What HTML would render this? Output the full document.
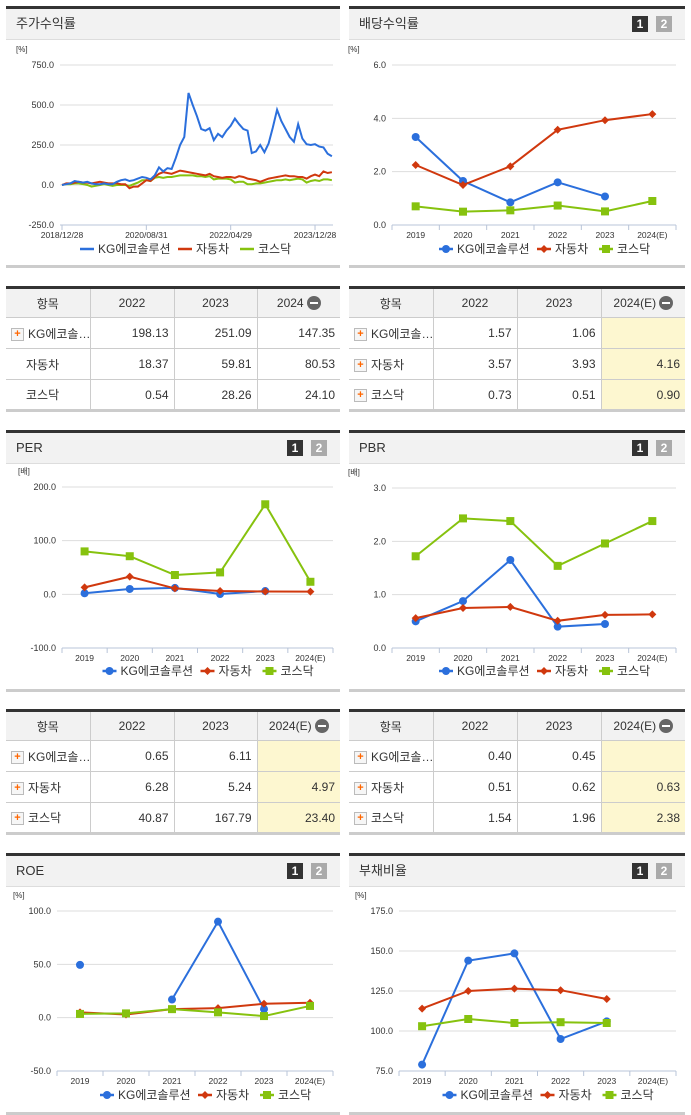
<!DOCTYPE html>
<html><head><meta charset="utf-8">
<style>
body{margin:0;width:691px;height:1115px;position:relative;background:#fff;font-family:"Liberation Sans","Noto Sans CJK KR",sans-serif;overflow:hidden}
.panel{position:absolute;border-top:3px solid #333;box-sizing:border-box}
.phead{height:30px;background:#f2f2f2;border-bottom:1px solid #ddd;font-size:13px;color:#333;line-height:30px;padding-left:10px;position:relative}
.pbot{position:absolute;left:0;right:0;height:3px;background:#ccc}
.b1,.b2{position:absolute;top:7px;width:16px;height:16px;color:#fff;font-size:12px;font-weight:bold;line-height:16px;text-align:center}
.b1{background:#333;right:37px}.b2{background:#aaa;right:13px}
table{position:absolute;border-collapse:collapse;font-size:12px;color:#333;border-top:3px solid #333;border-bottom:3px solid #ccc;table-layout:fixed}
td,th{border:1px solid #ccc;height:31px;padding:0 5px;box-sizing:border-box;white-space:nowrap;overflow:hidden}
th{background:#f2f2f2;font-weight:normal;text-align:center;height:30px}
td.n{text-align:right;color:#333}
td.y{background:#fdf7d0}
tr td:first-child,tr th:first-child{border-left:none}
tr td:last-child,tr th:last-child{border-right:none}
.pl{display:inline-block;width:11px;height:11px;border:1px solid #bbb;background:#f6f6f6;color:#f60;font-size:11px;line-height:10px;text-align:center;font-weight:bold;vertical-align:middle;margin-right:4px}
.mi{display:inline-block;width:14px;height:14px;border-radius:7px;background:#666;vertical-align:middle;position:relative;margin-left:3px}
.mi:after{content:"";position:absolute;left:3px;top:6px;width:8px;height:2px;background:#fff}
svg{position:absolute;left:0;top:0}
</style></head><body>

<div class="panel" style="left:6px;top:6px;width:334px;height:262px"><div class="phead">주가수익률</div><div class="pbot" style="top:256px"></div></div>
<div class="panel" style="left:349px;top:6px;width:336px;height:262px"><div class="phead">배당수익률<span class="b1">1</span><span class="b2">2</span></div><div class="pbot" style="top:256px"></div></div>
<div class="panel" style="left:6px;top:430px;width:334px;height:262px"><div class="phead">PER<span class="b1">1</span><span class="b2">2</span></div><div class="pbot" style="top:256px"></div></div>
<div class="panel" style="left:349px;top:430px;width:336px;height:262px"><div class="phead">PBR<span class="b1">1</span><span class="b2">2</span></div><div class="pbot" style="top:256px"></div></div>
<div class="panel" style="left:6px;top:853px;width:334px;height:262px"><div class="phead">ROE<span class="b1">1</span><span class="b2">2</span></div><div class="pbot" style="top:256px"></div></div>
<div class="panel" style="left:349px;top:853px;width:336px;height:262px"><div class="phead">부채비율<span class="b1">1</span><span class="b2">2</span></div><div class="pbot" style="top:256px"></div></div>

<table style="left:6px;top:286px;width:334px">
<tr><th style="width:84px">항목</th><th style="width:84px">2022</th><th style="width:83px">2023</th><th>2024<span class="mi"></span></th></tr>
<tr><td><span class="pl">+</span>KG에코솔…</td><td class="n">198.13</td><td class="n">251.09</td><td class="n">147.35</td></tr>
<tr><td style="padding-left:20px">자동차</td><td class="n">18.37</td><td class="n">59.81</td><td class="n">80.53</td></tr>
<tr><td style="padding-left:20px">코스닥</td><td class="n">0.54</td><td class="n">28.26</td><td class="n">24.10</td></tr>
</table>
<table style="left:349px;top:286px;width:336px">
<tr><th style="width:84px">항목</th><th style="width:84px">2022</th><th style="width:84px">2023</th><th>2024(E)<span class="mi"></span></th></tr>
<tr><td><span class="pl">+</span>KG에코솔…</td><td class="n">1.57</td><td class="n">1.06</td><td class="n y"></td></tr>
<tr><td><span class="pl">+</span>자동차</td><td class="n">3.57</td><td class="n">3.93</td><td class="n y">4.16</td></tr>
<tr><td><span class="pl">+</span>코스닥</td><td class="n">0.73</td><td class="n">0.51</td><td class="n y">0.90</td></tr>
</table>
<table style="left:6px;top:709px;width:334px">
<tr><th style="width:84px">항목</th><th style="width:84px">2022</th><th style="width:83px">2023</th><th>2024(E)<span class="mi"></span></th></tr>
<tr><td><span class="pl">+</span>KG에코솔…</td><td class="n">0.65</td><td class="n">6.11</td><td class="n y"></td></tr>
<tr><td><span class="pl">+</span>자동차</td><td class="n">6.28</td><td class="n">5.24</td><td class="n y">4.97</td></tr>
<tr><td><span class="pl">+</span>코스닥</td><td class="n">40.87</td><td class="n">167.79</td><td class="n y">23.40</td></tr>
</table>
<table style="left:349px;top:709px;width:336px">
<tr><th style="width:84px">항목</th><th style="width:84px">2022</th><th style="width:84px">2023</th><th>2024(E)<span class="mi"></span></th></tr>
<tr><td><span class="pl">+</span>KG에코솔…</td><td class="n">0.40</td><td class="n">0.45</td><td class="n y"></td></tr>
<tr><td><span class="pl">+</span>자동차</td><td class="n">0.51</td><td class="n">0.62</td><td class="n y">0.63</td></tr>
<tr><td><span class="pl">+</span>코스닥</td><td class="n">1.54</td><td class="n">1.96</td><td class="n y">2.38</td></tr>
</table>

<svg id="s" width="691" height="1115"></svg>

<script>
// ---- stock return (monthly, from 2018/12) ----
const tsKG = [0,5,10,25,20,15,20,10,5,5,10,5,5,20,30,35,25,30,40,50,45,35,60,110,85,105,100,170,250,300,575,500,430,350,340,355,280,320,300,340,370,415,380,350,340,200,210,250,205,260,360,470,400,350,300,270,380,290,255,250,255,240,235,195,180];
const tsCar = [0,10,10,15,20,15,15,10,15,20,15,10,10,10,5,5,-20,-10,-10,10,30,25,50,70,80,75,70,80,90,85,80,75,70,65,60,70,55,50,45,50,50,45,55,50,40,35,30,20,30,40,45,50,55,60,55,55,50,50,40,55,65,55,85,75,80];
const tsKosdaq = [0,5,5,10,10,5,0,-10,-5,0,5,0,-5,0,0,0,-5,5,15,30,30,25,45,50,45,50,50,55,60,60,60,60,55,55,50,55,35,40,40,40,35,15,20,20,5,5,10,10,15,20,25,30,30,35,30,35,40,35,15,25,30,25,35,35,30];
const tsTicks = [750,500,250,0,-250];
const tsDates = ["2018/12/28","2020/08/31","2022/04/29","2023/12/28"];
const tsDateMonths = [0,20,40,60];

// ---- category charts ----
const years = ["2019","2020","2021","2022","2023","2024(E)"];
const divKG = [3.3,1.65,0.85,1.6,1.07,null];
const divCar = [2.25,1.5,2.2,3.57,3.93,4.16];
const divKosdaq = [0.7,0.5,0.55,0.73,0.51,0.9];
const divTicks = [6,4,2,0];
const perKG = [2,10,12,0.65,6.11,null];
const perCar = [13,33,11,6.28,5.24,4.97];
const perKosdaq = [80,71,36,40.87,167.79,23.4];
const perTicks = [200,100,0,-100];
const pbrKG = [0.5,0.88,1.65,0.40,0.45,null];
const pbrCar = [0.56,0.75,0.77,0.51,0.62,0.63];
const pbrKosdaq = [1.72,2.43,2.38,1.54,1.96,2.38];
const pbrTicks = [3,2,1,0];
const roeKG = [49.5,null,17,90,8,null];
const roeCar = [5,3,8,9,13,14];
const roeKosdaq = [3.5,4,8,5,1.5,11];
const roeTicks = [100,50,0,-50];
const debtKG = [79,144,148.5,95,106,null];
const debtCar = [114,125,126.5,125.5,120,null];
const debtKosdaq = [103,107.5,105,105.5,105,null];
const debtTicks = [175,150,125,100,75];

const NS="http://www.w3.org/2000/svg", S=document.getElementById('s');
const BLUE="#2b6fdc", RED="#d0380e", GREEN="#86c20e";
function el(t,a,p){const e=document.createElementNS(NS,t);for(const k in a)e.setAttribute(k,a[k]);(p||S).appendChild(e);return e;}
function txt(x,y,s,size,anchor,p){const e=el('text',{x:x,y:y,'font-size':size,fill:'#333','text-anchor':anchor||'middle','font-family':'"Liberation Sans","Noto Sans CJK KR",sans-serif'},p);e.textContent=s;return e;}

function yAxis(g,L,R,top,bot,ticks,unit){
  const max=ticks[0],min=ticks[ticks.length-1];
  const y=v=>top+(max-v)/(max-min)*(bot-top);
  txt(L-44,top-13,unit,8,'start',g);
  ticks.forEach(t=>{
    const gl=el('line',{x1:L,x2:R,y1:y(t),y2:y(t),stroke:'#ddd','stroke-width':1},g);
    
    
    const lb=txt(L-6,y(t)+3,t.toFixed(1),9,'end',g);
    
    
  });
  el('line',{x1:L,x2:R,y1:bot,y2:bot,stroke:'#b8c4d8','stroke-width':1},g);
  return y;
}
function marker(g,kind,x,y,col){
  let m;
  if(kind==0)m=el('circle',{cx:x,cy:y,r:4,fill:col},g);
  else if(kind==1)m=el('path',{d:`M${x} ${y-4}L${x+4} ${y}L${x} ${y+4}L${x-4} ${y}Z`,fill:col},g);
  else m=el('rect',{x:x-4,y:y-4,width:8,height:8,fill:col},g);
  
  
}
function legend(g,cx,y,withMarkers){
  const items=[["KG에코솔루션",BLUE,0,0],["자동차",RED,1,98],["코스닥",GREEN,2,160]];
  const x0=cx-100;
  items.forEach(it=>{
    const x=x0+it[3];
    el('line',{x1:x,x2:x+14,y1:y,y2:y,stroke:it[1],'stroke-width':2.5},g);
    if(withMarkers)marker(g,it[2],x+7,y,it[1]);
    const t=txt(x+18,y+4,it[0],12,'start',g);
    
    
  });
}
function catChart(name,L,R,top,bot,ticks,unit,series,legY){
  const g=el('g',{});
  
  
  const y=yAxis(g,L,R,top,bot,ticks,unit);
  const w=(R-L)/years.length, x=i=>L+(i+0.5)*w;
  for(let i=0;i<=years.length;i++)el('line',{x1:L+i*w,x2:L+i*w,y1:bot,y2:bot+5,stroke:'#b8c4d8'},g);
  years.forEach((c,i)=>{const t=txt(x(i),bot+13,c,8.5,'middle',g);});
  const cols=[BLUE,RED,GREEN];
  series.forEach((s,k)=>{
    let d='',pen=false;
    s.forEach((v,i)=>{if(v==null){pen=false;return;}d+=(pen?'L':'M')+x(i)+' '+y(v);pen=true;});
    const p=el('path',{d:d,fill:'none',stroke:cols[k],'stroke-width':2},g);
    
    
    s.forEach((v,i)=>{if(v!=null)marker(g,k,x(i),y(v),cols[k]);});
  });
  legend(g,(L+R)/2+5,legY,true);
}
// time series chart
(function(){
  const g=el('g',{});
  
  
  const L=60,R=333,top=65,bot=225;
  const y=yAxis(g,L,R,top,bot,tsTicks,'[%]');
  const x0=62,pm=4.217,x=m=>x0+m*pm;
  tsDates.forEach((d,i)=>{
    el('line',{x1:x(tsDateMonths[i]),x2:x(tsDateMonths[i]),y1:bot,y2:bot+5,stroke:'#b8c4d8'},g);
    const t=txt(x(tsDateMonths[i]),bot+13,d,8.5,'middle',g);
    
    
  });
  [[tsKosdaq,GREEN],[tsCar,RED],[tsKG,BLUE]].forEach(s=>{
    const p=el('path',{d:s[0].map((v,i)=>(i?'L':'M')+x(i)+' '+y(v)).join(''),fill:'none',stroke:s[1],'stroke-width':2},g);
    
    
  });
  legend(g,180,249,false);
})();
catChart('dividend-chart',392,676,65,225,divTicks,'[%]',[divKG,divCar,divKosdaq],249);
catChart('per-chart',62,333,487,648,perTicks,'[배]',[perKG,perCar,perKosdaq],671);
catChart('pbr-chart',392,676,488,648,pbrTicks,'[배]',[pbrKG,pbrCar,pbrKosdaq],671);
catChart('roe-chart',57,333,911,1071,roeTicks,'[%]',[roeKG,roeCar,roeKosdaq],1095);
catChart('debt-chart',399,676,911,1071,debtTicks,'[%]',[debtKG,debtCar,debtKosdaq],1095);
</script>
</body></html>
